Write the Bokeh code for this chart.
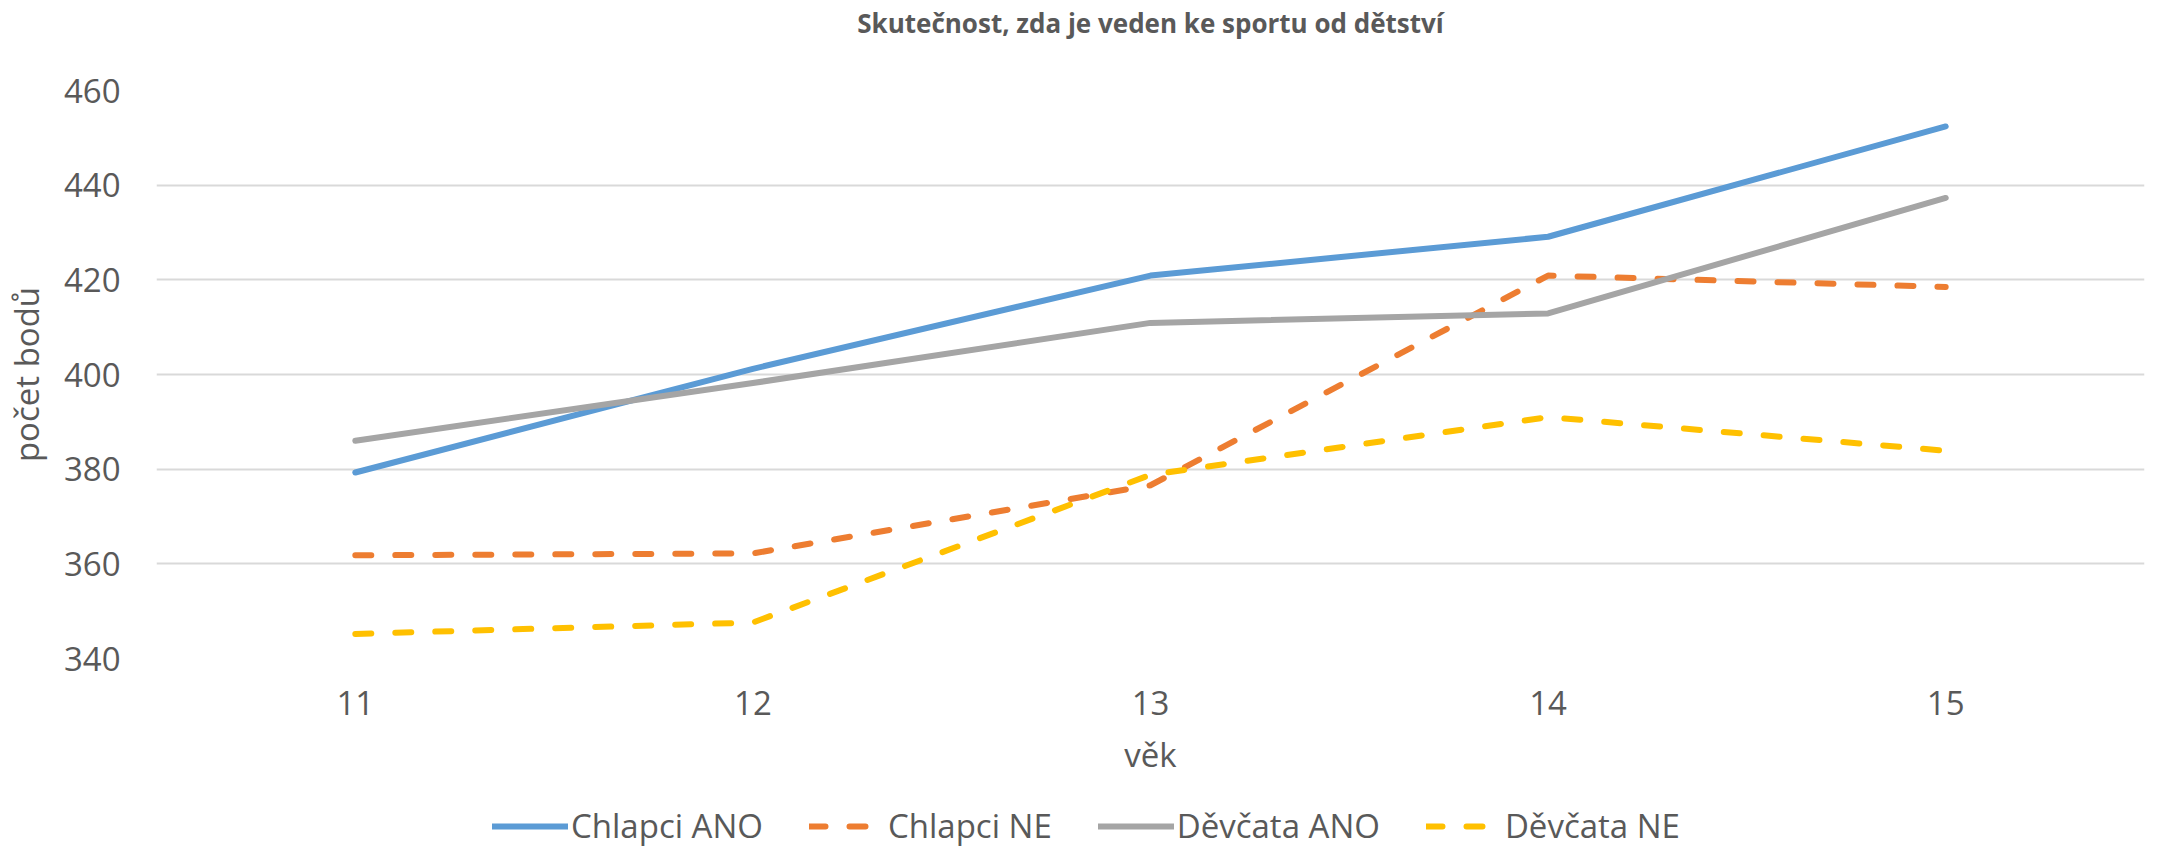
from bokeh.plotting import figure
from bokeh.layouts import column
from bokeh.models import Range1d, FixedTicker, Legend, LegendItem
from bokeh.embed import file_html
from bokeh.resources import INLINE

ages = [11, 12, 13, 14, 15]
chlapci_ano = [379.3, 401.2, 420.9, 429.1, 452.4]
chlapci_ne = [361.8, 362.2, 376.6, 420.9, 418.5]
devcata_ano = [386.0, 398.2, 410.9, 412.9, 437.3]
devcata_ne = [345.2, 347.6, 378.8, 391.0, 383.9]
y_ticks = [340, 360, 380, 400, 420, 440, 460]
series_names = ["Chlapci ANO", "Chlapci NE", "Děvčata ANO", "Děvčata NE"]
title_text = "Skutečnost, zda je veden ke sportu od dětství"

TXT = "#595959"
FONT = "Open Sans"
COLORS = ["#5B9BD5", "#ED7D31", "#A5A5A5", "#FFC000"]
DASHES = ["solid", "16 24", "solid", "16 24"]
LW = 6
W = 2151

# --- title strip ---
pt = figure(width=W, height=48, output_backend="svg", toolbar_location=None,
            x_range=Range1d(0, 1), y_range=Range1d(0, 1),
            x_axis_location=None, y_axis_location=None,
            min_border_left=147, min_border_right=7, min_border_top=40, min_border_bottom=0)
pt.title.text = title_text
pt.title.align = "center"
pt.title.text_font = FONT
pt.title.text_font_style = "bold"
pt.title.text_font_size = "26px"
pt.title.text_color = TXT
pt.title.standoff = 0
pt.outline_line_color = None
pt.grid.visible = False

# --- main chart ---
p = figure(width=W, height=752, output_backend="svg", toolbar_location=None,
           x_range=Range1d(10.5, 15.5), y_range=Range1d(340, 460),
           min_border_left=147, min_border_right=7, min_border_top=42, min_border_bottom=142)
p.outline_line_color = None
p.xgrid.grid_line_color = None
p.ygrid.grid_line_color = "#d9d9d9"
p.ygrid.grid_line_width = 2

p.xaxis.ticker = FixedTicker(ticks=ages)
p.yaxis.ticker = FixedTicker(ticks=y_ticks)
for ax in (p.xaxis, p.yaxis):
    ax.axis_line_color = None
    ax.major_tick_line_color = None
    ax.minor_tick_line_color = None
    ax.major_tick_in = 0
    ax.major_tick_out = 0
    ax.minor_tick_out = 0
    ax.major_label_text_font = FONT
    ax.major_label_text_font_size = "33px"
    ax.major_label_text_color = TXT
    ax.axis_label_text_font = FONT
    ax.axis_label_text_font_size = "33px"
    ax.axis_label_text_color = TXT
    ax.axis_label_text_font_style = "normal"

p.xaxis.axis_label = "věk"
p.yaxis.axis_label = "počet bodů"
p.xaxis.major_label_standoff = 32
p.xaxis.axis_label_standoff = 14
p.yaxis.major_label_standoff = 36
p.yaxis.axis_label_standoff = 12

all_series = [chlapci_ano, chlapci_ne, devcata_ano, devcata_ne]
for vals, c, d in zip(all_series, COLORS, DASHES):
    p.line(ages, vals, line_color=c, line_width=LW, line_cap="round", line_join="round", line_dash=d)

# --- legend strip (its frame is aligned with the main chart's frame by the column) ---
pl = figure(width=W, height=48, output_backend="svg", toolbar_location=None,
            x_range=Range1d(0, 1), y_range=Range1d(0, 1),
            x_axis_location=None, y_axis_location=None,
            min_border_left=147, min_border_right=7, min_border_top=0, min_border_bottom=0)
pl.outline_line_color = None
pl.grid.visible = False
items = []
for name, vals, c, d in zip(series_names, all_series, COLORS, DASHES):
    # same series, outside this strip's ranges: only the legend glyph shows
    r = pl.line(ages, vals, line_color=c, line_width=LW, line_cap="round", line_join="round", line_dash=d)
    items.append(LegendItem(label=name, renderers=[r]))
legend = Legend(items=items, orientation="horizontal", location=(336, 0),
                glyph_width=76, glyph_height=20, label_standoff=3, spacing=46,
                padding=0, margin=0, border_line_color=None, background_fill_alpha=0,
                label_text_font=FONT, label_text_font_size="33px", label_text_color=TXT)
pl.add_layout(legend, "center")

layout = column(pt, p, pl, spacing=0)
open("out.html", "w").write(file_html(layout, INLINE))
